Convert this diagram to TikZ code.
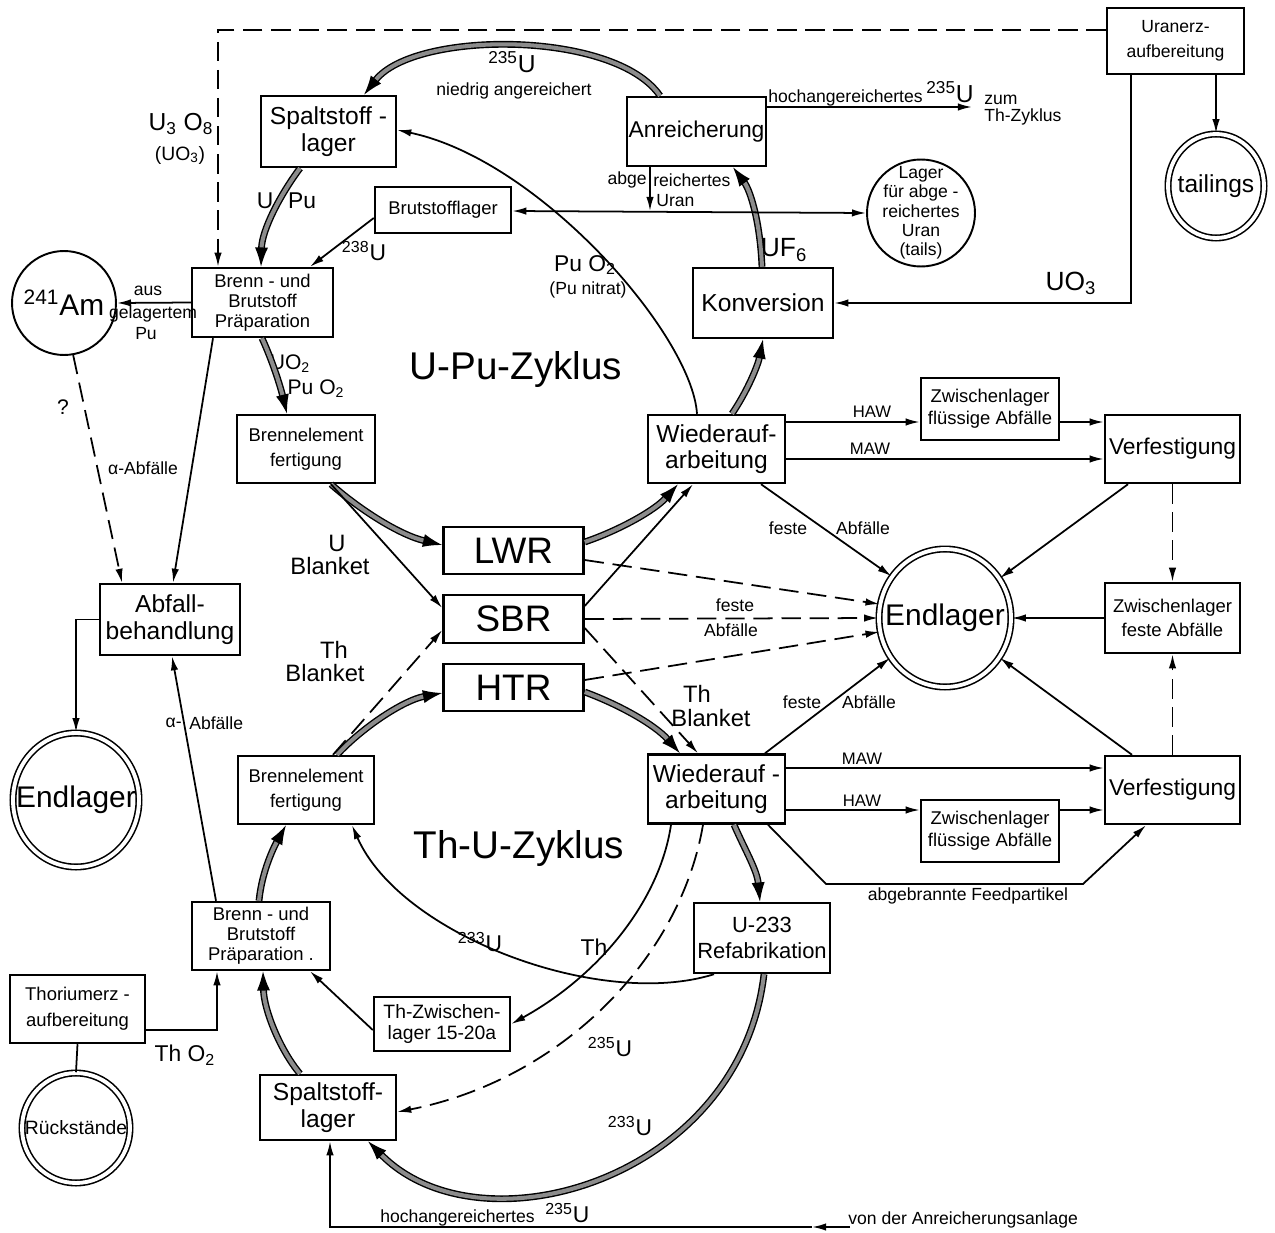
\documentclass[tikz,border=0pt]{standalone}
\usepackage{fontspec}
\setmainfont{Liberation Sans}
\usetikzlibrary{arrows.meta,shapes.geometric}
\newcommand\fsz[2]{\fontsize{#1}{#2}\selectfont}
\newcommand\chsub[1]{\textsubscript{#1}}
\newcommand\isoup[1]{\textsuperscript{#1}}
\begin{document}
\begin{tikzpicture}[x=0.02cm,y=-0.02cm,
  bx/.style={draw, line width=1.4pt, align=center, inner sep=1pt, font=\fsz{10.5}{12}},
  cl/.style={ellipse, draw, line width=1.1pt, inner sep=0pt},
  dc/.style={ellipse, draw, line width=0.9pt, double, double distance=2.2pt, inner sep=0pt},
  lb/.style={inner sep=0pt, font=\fsz{10}{12}},
  ln/.style={line width=1pt, -{Latex[length=8pt,width=4.2pt]}},
  ln0/.style={line width=1pt},
  dsh/.style={ln, dash pattern=on 11pt off 5pt},
  thk/.style={line width=0.8pt, double=black!45, double distance=2.3pt, -{Latex[length=11pt,width=7.5pt]}}
]
\useasboundingbox (0,0) rectangle (1275,1233);

% ---------- nodes ----------
\node[bx, minimum width=2.7cm, minimum height=1.42cm, font=\fsz{14}{15.5}] (sp1) at (328.5,131.5) {Spaltstoff -\\lager};
\node[bx, minimum width=2.78cm, minimum height=1.38cm, font=\fsz{13}{15}] (anr) at (696.5,131.5) {Anreicherung};
\node[bx, minimum width=2.74cm, minimum height=1.32cm, font=\fsz{10}{14.5}] (urz) at (1175.5,41) {Uranerz-\\aufbereitung};
\node[dc, minimum width=1.92cm, minimum height=2.08cm] (tail) at (1216,186) {};
\node[lb, font=\fsz{14}{16}] at (tail) {tailings};
\node[cl, minimum width=2.16cm, minimum height=2.14cm] (lagt) at (921,213) {};
\node[lb, font=\fsz{10}{11}, align=center] at (lagt) {Lager\\für abge -\\reichertes\\Uran\\(tails)};
\node[bx, minimum width=2.72cm, minimum height=0.92cm] (brut) at (443,210) {Brutstofflager};
\node[bx, minimum width=2.82cm, minimum height=1.38cm, font=\fsz{10.5}{11.5}] (bp1) at (262.5,302.5) {Brenn - und\\Brutstoff\\Präparation};
\node[cl, minimum size=2.08cm] (am) at (64,303) {};
\node[lb, font=\fsz{17}{19}] at (am) {\isoup{241}Am};
\node[bx, minimum width=2.8cm, minimum height=1.4cm, font=\fsz{14}{16}] (konv) at (763,303) {Konversion};
\node[bx, minimum width=2.76cm, minimum height=1.36cm, font=\fsz{10.5}{14}] (be1) at (306,449) {Brennelement\\fertigung};
\node[bx, minimum width=2.74cm, minimum height=1.36cm, font=\fsz{14}{15}] (wa1) at (716.5,449) {Wiederauf-\\arbeitung};
\node[bx, minimum width=2.76cm, minimum height=1.24cm, font=\fsz{10.5}{12.5}] (zf1) at (990,409) {Zwischenlager\\flüssige Abfälle};
\node[bx, minimum width=2.7cm, minimum height=1.36cm, font=\fsz{13}{15}] (vf1) at (1172.5,449) {Verfestigung};
\node[bx, minimum width=2.8cm, minimum height=0.94cm, font=\fsz{21}{22}] (lwr) at (513.5,550.5) {LWR};
\node[bx, minimum width=2.8cm, minimum height=0.96cm, font=\fsz{21}{22}] (sbr) at (513.5,619) {SBR};
\node[bx, minimum width=2.8cm, minimum height=0.94cm, font=\fsz{21}{22}] (htr) at (513.5,687.5) {HTR};
\node[bx, minimum width=2.8cm, minimum height=1.42cm, font=\fsz{14}{15.5}] (abf) at (170,619.5) {Abfall-\\behandlung};
\node[dc, minimum width=2.64cm, minimum height=2.76cm] (endl) at (945,618) {};
\node[lb, font=\fsz{17}{19}] at (endl) {Endlager};
\node[bx, minimum width=2.7cm, minimum height=1.4cm, font=\fsz{10.5}{14}] (zfe) at (1172.5,618) {Zwischenlager\\feste Abfälle};
\node[bx, minimum width=2.7cm, minimum height=1.36cm, font=\fsz{13}{15}] (vf2) at (1172.5,790) {Verfestigung};
\node[bx, minimum width=2.74cm, minimum height=1.38cm, font=\fsz{14}{15}] (wa2) at (716.5,789) {Wiederauf -\\arbeitung};
\node[bx, minimum width=2.76cm, minimum height=1.24cm, font=\fsz{10.5}{12.5}] (zf2) at (990,831) {Zwischenlager\\flüssige Abfälle};
\node[bx, minimum width=2.72cm, minimum height=1.36cm, font=\fsz{10.5}{14}] (be2) at (306,790) {Brennelement\\fertigung};
\node[dc, minimum width=2.52cm, minimum height=2.68cm] (endl2) at (76,800) {};
\node[lb, font=\fsz{17}{19}] at (endl2) {Endlager};
\node[bx, minimum width=2.76cm, minimum height=1.36cm, font=\fsz{10.5}{11.5}] (bp2) at (261,936) {Brenn - und\\Brutstoff\\Präparation .};
\node[bx, minimum width=2.72cm, minimum height=1.4cm, font=\fsz{12.5}{15}] (u233) at (762,938) {U-233\\Refabrikation};
\node[bx, minimum width=2.7cm, minimum height=1.36cm, font=\fsz{10.5}{15}] (thz) at (77.5,1009) {Thoriumerz -\\aufbereitung};
\node[dc, minimum width=2.16cm, minimum height=2.2cm] (rst) at (76,1128) {};
\node[lb, font=\fsz{11}{13}] at (rst) {Rückstände};
\node[bx, minimum width=2.72cm, minimum height=1.08cm, font=\fsz{11}{12.5}] (thzw) at (442,1024) {Th-Zwischen-\\lager 15-20a};
\node[bx, minimum width=2.72cm, minimum height=1.3cm, font=\fsz{14}{15.5}] (sp2) at (328,1107.5) {Spaltstoff-\\lager};

\coordinate (thzyk) at (972,107);
\coordinate (abjoin) at (650,211);
\coordinate (vonA) at (850,1227);
\coordinate (vonB) at (812,1227);

% ---------- labels ----------
\node[lb, font=\fsz{14}{16}] at (181,124) {U\chsub{3} O\chsub{8}};
\node[lb, font=\fsz{11}{13}] at (180,155) {(UO\chsub{3})};
\node[lb, font=\fsz{14}{16}, anchor=base] at (512,73) {\isoup{235}U};
\node[lb, anchor=base] at (514,96) {niedrig angereichert};
\node[lb, anchor=base east] at (923,103) {hochangereichertes};
\node[lb, font=\fsz{14}{16}, anchor=base west] at (926,103) {\isoup{235}U};
\node[lb, align=left, anchor=west, font=\fsz{10}{10}] at (984,110) {zum\\Th-Zyklus};
\node[lb, anchor=east] at (647,180) {abge};
\node[lb, anchor=west] at (653,180) {reichertes};
\node[lb, anchor=west] at (656,201) {Uran};
\node[lb, font=\fsz{15}{17}] at (784,250) {UF\chsub{6}};
\node[lb, font=\fsz{15}{17}] at (1071,283) {UO\chsub{3}};
\node[lb, font=\fsz{13}{15}] at (265,201) {U};
\node[lb, font=\fsz{13}{15}] at (302,201) {Pu};
\node[lb, font=\fsz{13}{15}] at (364,251) {\isoup{238}U};
\node[lb, font=\fsz{13}{15}] at (585,265) {Pu O\chsub{2}};
\node[lb] at (588,290) {(Pu nitrat)};
\node[lb] at (148,291) {aus};
\node[lb] at (153,314) {gelagertem};
\node[lb] at (146,334) {Pu};
\node[lb, font=\fsz{12}{14}] at (290,364) {UO\chsub{2}};
\node[lb, font=\fsz{12}{14}] at (316,389) {Pu O\chsub{2}};
\node[lb, font=\fsz{22}{24}] at (516,370) {U-Pu-Zyklus};
\node[lb, font=\fsz{12}{14}] at (63,407) {?};
\node[lb] at (143,468) {α-Abfälle};
\node[lb, font=\fsz{9.5}{11}] at (872,412) {HAW};
\node[lb, font=\fsz{9.5}{11}] at (870,449) {MAW};
\node[lb] at (788,528) {feste};
\node[lb] at (863,528) {Abfälle};
\node[lb, font=\fsz{13.5}{15}] at (337,543) {U};
\node[lb, font=\fsz{13.5}{15}] at (330,566) {Blanket};
\node[lb, font=\fsz{13.5}{15}] at (334,650) {Th};
\node[lb, font=\fsz{13.5}{15}] at (325,673) {Blanket};
\node[lb] at (735,605) {feste};
\node[lb] at (731,630) {Abfälle};
\node[lb, font=\fsz{13.5}{15}] at (697,694) {Th};
\node[lb, font=\fsz{13.5}{15}] at (711,718) {Blanket};
\node[lb] at (802,702) {feste};
\node[lb] at (869,702) {Abfälle};
\node[lb, font=\fsz{9.5}{11}] at (862,759) {MAW};
\node[lb, font=\fsz{9.5}{11}] at (862,801) {HAW};
\node[lb, anchor=east] at (182,723) {α-};
\node[lb, anchor=west] at (189,723) {Abfälle};
\node[lb, font=\fsz{22}{24}] at (519,849) {Th-U-Zyklus};
\node[lb] at (968,896) {abgebrannte Feedpartikel};
\node[lb, font=\fsz{13}{15}] at (480,942) {\isoup{233}U};
\node[lb, font=\fsz{13}{15}] at (594,947) {Th};
\node[lb, font=\fsz{13}{15}] at (610,1047) {\isoup{235}U};
\node[lb, font=\fsz{13}{15}] at (630,1126) {\isoup{233}U};
\node[lb, font=\fsz{13}{15}] at (185,1055) {Th O\chsub{2}};
\node[lb, anchor=base east] at (535,1222) {hochangereichertes};
\node[lb, font=\fsz{13}{15}, anchor=base west] at (545,1222) {\isoup{235}U};
\node[lb, anchor=west] at (848,1220) {von der Anreicherungsanlage};

% ---------- thick connectors ----------
\draw[thk] (anr.north -| 660,0) .. controls (615,30) and (415,30) .. (sp1.north -| 364,0);
\draw[thk] (konv.north -| 762,0) .. controls (760,220) and (750,190) .. (anr.south -| 733,0);
\draw[thk] (wa1.north -| 732,0) .. controls (748,390) and (758,365) .. (konv.south -| 763,0);
\draw[thk] (sp1.south -| 300,0) .. controls (280,195) and (262,230) .. (bp1.north -| 261,0);
\draw[thk] (bp1.south -| 262,0) .. controls (272,360) and (280,385) .. (be1.north -| 287,0);
\draw[thk] (be1.south -| 331,0) .. controls (360,510) and (400,535) .. (lwr.west |- 0,545);
\draw[thk] (lwr.east |- 0,542) .. controls (620,530) and (655,510) .. (wa1.south -| 678,0);
\draw[thk] (htr.east |- 0,692) .. controls (620,705) and (655,725) .. (wa2.north -| 680,0);
\draw[thk] (be2.north -| 337,0) .. controls (365,725) and (405,700) .. (htr.west |- 0,693);
\draw[thk] (bp2.north -| 259,0) .. controls (262,870) and (275,845) .. (be2.south -| 286,0);
\draw[thk] (sp2.north -| 300,0) .. controls (280,1050) and (264,1010) .. (bp2.south -| 263,0);
\draw[thk] (wa2.south -| 734,0) .. controls (745,850) and (757,870) .. (u233.north -| 760,0);
\draw[thk] (u233.south -| 764,0) .. controls (740,1180) and (480,1255) .. (sp2.south -| 368,0);

% ---------- thin connectors ----------
\draw[ln] (wa1.north -| 697,0) .. controls (692,335) and (540,160) .. (sp1.east |- 0,130);
\draw[dsh] (urz.west |- 0,30) -- (218,30) -- (bp1.north -| 218,0);
\draw[ln] (urz.south -| 1131,0) -- (1131,303) -- (konv.east);
\draw[ln] (urz.south -| tail.north) -- (tail.north);
\draw[ln] (anr.east |- 0,107) -- (thzyk);
\draw[ln] (anr.south -| abjoin) -- (abjoin);
\draw[line width=1pt, {Latex[length=8pt,width=4.2pt]}-{Latex[length=8pt,width=4.2pt]}] (brut.east |- 0,211) -- (lagt.west);
\draw[ln] (brut.west |- 0,218) -- (bp1.north -| 310,0);
\draw[ln] (bp1.west) -- (am.east);
\draw[dsh] (am.-80) -- (abf.north -| 122,0);
\draw[ln] (bp1.south -| 213,0) -- (abf.north -| 173,0);
\draw[ln] (abf.west) -| (endl2.north);
\draw[ln] (be1.south -| 331,0) -- (sbr.west |- 0,608);
\draw[ln] (sbr.east |- 0,606) -- (wa1.south -| 693,0);
\draw[dsh] (be2.north -| 333,0) -- (sbr.west |- 0,630);
\draw[dsh] (sbr.east |- 0,628) -- (wa2.north -| 698,0);
\draw[dsh] (lwr.east |- 0,560) -- (endl.168);
\draw[dsh] (sbr.east) -- (endl.west);
\draw[dsh] (htr.east |- 0,680) -- (endl.192);
\draw[ln] (wa1.south -| 761,0) -- (endl.142);
\draw[ln] (vf1.south -| 1128,0) -- (endl.36);
\draw[ln] (zfe.west) -- (endl.east);
\draw[ln] (vf2.north -| 1132,0) -- (endl.-36);
\draw[ln] (wa2.north -| 765,0) -- (endl.216);
\draw[dsh] (vf1.south) -- (zfe.north);
\draw[dsh] (vf2.north) -- (zfe.south);
\draw[ln] (wa1.east |- 0,422) -- (zf1.west |- 0,422);
\draw[ln] (zf1.east |- 0,422) -- (vf1.west |- 0,422);
\draw[ln] (wa1.east |- 0,459) -- (vf1.west |- 0,459);
\draw[ln] (wa2.east |- 0,768) -- (vf2.west |- 0,768);
\draw[ln] (wa2.east |- 0,810) -- (zf2.west |- 0,810);
\draw[ln] (zf2.east |- 0,810) -- (vf2.west |- 0,810);
\draw[ln] (wa2.south -| 768,0) -- (826,884) -- (1083,884) -- (vf2.south -| 1146,0);
\draw[ln] (wa2.south -| 671,0) .. controls (660,900) and (600,975) .. (thzw.east |- 0,1024);
\draw[dsh] (wa2.south -| 703,0) .. controls (680,960) and (560,1080) .. (sp2.east |- 0,1112);
\draw[ln] (u233.south -| 714,0) .. controls (600,1010) and (400,935) .. (be2.south -| 352,0);
\draw[ln] (thzw.west |- 0,1030) -- (bp2.south -| 310,0);
\draw[ln] (thz.east |- 0,1030) -- (217,1030) -- (bp2.south -| 217,0);
\draw[ln0] (thz.south) -- (rst.north);
\draw[ln] (bp2.north -| 216,0) -- (abf.south -| 172,0);
\draw[ln] (vonA) -- (vonB);
\draw[ln] (vonB) -- (330,1227) -- (sp2.south -| 330,0);
\end{tikzpicture}
\end{document}
